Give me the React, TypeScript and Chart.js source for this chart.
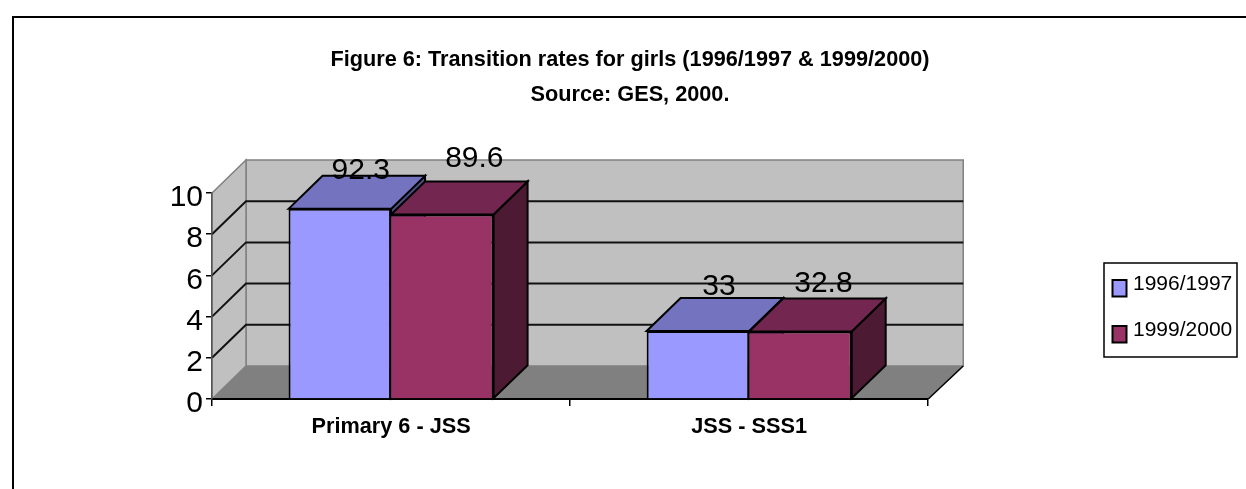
import React, { useEffect, useRef } from "react";
import { Chart, registerables } from "chart.js";

Chart.register(...registerables);

const categories = ["Primary 6 - JSS", "JSS - SSS1"];
const seriesNames = ["1996/1997", "1999/2000"];
const values1996 = [9.23, 3.3];
const values1999 = [8.96, 3.28];
const labels1996 = ["92.3", "33"];
const labels1999 = ["89.6", "32.8"];
const titleLines = ["Figure 6: Transition rates for girls (1996/1997 & 1999/2000)", "Source: GES, 2000."];
const yTicks = [0, 2, 4, 6, 8, 10];

const FONT = '"Liberation Sans", Arial, sans-serif';
const DX = 34;
const DY = 33;
const WALL_RIGHT_EXTRA = DX + 1;
const faces = [
  { front: "#9999FF", top: "#7373BF", side: "#4D4D80" },
  { front: "#993366", top: "#732650", side: "#4D1A33" },
];
// label placement relative to the bar's top-centre, per dataset then category
const labelNudge = [
  [{ x: 21, y: -30 }, { x: 21, y: -36 }],
  [{ x: 32, y: -47 }, { x: 23, y: -39 }],
];

function poly(ctx: CanvasRenderingContext2D, pts: number[][], fill: string | null, stroke: string | null, lw = 1.5) {
  ctx.beginPath();
  pts.forEach((p, i) => (i ? ctx.lineTo(p[0], p[1]) : ctx.moveTo(p[0], p[1])));
  ctx.closePath();
  if (fill) {
    ctx.fillStyle = fill;
    ctx.fill();
  }
  if (stroke) {
    ctx.strokeStyle = stroke;
    ctx.lineWidth = lw;
    ctx.lineJoin = "miter";
    ctx.stroke();
  }
}

const scenePlugin = {
  id: "scene3d",
  afterLayout(chart: any) {
    if (chart.titleBlock) {
      chart.titleBlock.left = 14;
      chart.titleBlock.right = 1246;
      chart.titleBlock.width = 1232;
    }
    const lg = chart.legend;
    if (lg) {
      lg.left = 1083.5;
      lg.right = 1246;
      lg.top = 248.5;
      lg.bottom = 372;
      lg.width = 162.5;
      lg.height = 123.5;
    }
  },
  beforeDraw(chart: any) {
    const { ctx, chartArea: a, scales } = chart;
    const y = scales.y;
    ctx.save();
    ctx.fillStyle = "#FFFFFF";
    ctx.fillRect(0, 0, chart.width, chart.height);

    // outer frame: top and left edges only
    ctx.fillStyle = "#000000";
    ctx.fillRect(12, 16, chart.width - 12, 2);
    ctx.fillRect(12, 16, 2, chart.height - 16);

    const y0 = y.getPixelForValue(0);
    const yMax = y.getPixelForValue(10);
    const farRight = a.right + WALL_RIGHT_EXTRA;
    // back wall
    poly(ctx, [[a.left + DX, yMax - DY], [farRight, yMax - DY], [farRight, y0 - DY], [a.left + DX, y0 - DY]], "#C0C0C0", "#808080", 1.5);
    // side wall
    poly(ctx, [[a.left, yMax], [a.left + DX, yMax - DY], [a.left + DX, y0 - DY], [a.left, y0]], "#C0C0C0", "#808080", 1.5);
    // floor
    poly(ctx, [[a.left, y0], [a.left + DX, y0 - DY], [farRight, y0 - DY], [a.right, y0]], "#808080", null);
    ctx.strokeStyle = "#000000";
    ctx.lineWidth = 1.5;
    ctx.beginPath();
    ctx.moveTo(a.right, y0);
    ctx.lineTo(farRight, y0 - DY);
    ctx.stroke();
    // grid lines across both walls
    yTicks.filter((v) => v > 0 && v < 10).forEach((v) => {
      const py = y.getPixelForValue(v);
      ctx.strokeStyle = "#111111";
      ctx.lineWidth = 2;
      ctx.beginPath();
      ctx.moveTo(a.left, py);
      ctx.lineTo(a.left + DX, py - DY);
      ctx.lineTo(farRight, py - DY);
      ctx.stroke();
    });
    ctx.restore();
  },
  beforeDatasetsDraw(chart: any) {
    const { ctx } = chart;
    ctx.save();
    chart.data.datasets.forEach((_: any, di: number) => {
      chart.getDatasetMeta(di).data.forEach((bar: any) => {
        const l = bar.x - bar.width / 2;
        const r = bar.x + bar.width / 2;
        const t = bar.y;
        const b = bar.base;
        poly(ctx, [[r, t], [r + DX, t - DY], [r + DX, b - DY], [r, b]], faces[di].side, "#000000", 2);
        poly(ctx, [[l, t], [l + DX, t - DY], [r + DX, t - DY], [r, t]], faces[di].top, "#000000", 2);
      });
    });
    ctx.restore();
  },
  afterDatasetsDraw(chart: any) {
    const { ctx } = chart;
    const sets = [labels1996, labels1999];
    ctx.save();
    ctx.font = `30px ${FONT}`;
    ctx.fillStyle = "#000000";
    ctx.textAlign = "center";
    ctx.textBaseline = "alphabetic";
    chart.data.datasets.forEach((_: any, di: number) => {
      chart.getDatasetMeta(di).data.forEach((bar: any, ci: number) => {
        const n = labelNudge[di][ci];
        ctx.fillText(sets[di][ci], bar.x + n.x, bar.y + n.y);
      });
    });
    ctx.restore();
  },
  afterDraw(chart: any) {
    const { ctx } = chart;
    ctx.save();
    ctx.strokeStyle = "#000000";
    ctx.lineWidth = 1.5;
    ctx.strokeRect(1104, 263, 133, 94);
    // legend swatches sit lower than the text rows in the reference
    faces.forEach((f, i) => {
      ctx.fillStyle = f.front;
      ctx.fillRect(1112.5, 280 + i * 46, 14, 16.5);
      ctx.lineWidth = 2;
      ctx.strokeRect(1112.5, 280 + i * 46, 14, 16.5);
    });
    ctx.restore();
  },
};

export default function App() {
  const ref = useRef<HTMLCanvasElement>(null);
  useEffect(() => {
    document.body.style.margin = "0";
    const chart = new Chart(ref.current as HTMLCanvasElement, {
      type: "bar",
      data: {
        labels: categories,
        datasets: [
          { label: seriesNames[0], data: values1996, backgroundColor: faces[0].front, borderColor: "#000000", borderWidth: 2 },
          {
            label: seriesNames[1],
            data: values1999,
            backgroundColor: faces[1].front,
            borderColor: "#000000",
            borderWidth: { top: 2, right: 2, bottom: 2, left: 0 },
          },
        ],
      },
      options: {
        animation: false,
        responsive: false,
        devicePixelRatio: 1,
        layout: { padding: { top: 42.5, left: 0, right: 159, bottom: 0 } },
        datasets: { bar: { categoryPercentage: 0.5726, barPercentage: 1 } },
        scales: {
          x: {
            afterFit: (s: any) => {
              s.height = 90;
            },
            border: { display: true, color: "#000000", width: 2 },
            grid: { drawOnChartArea: false, drawTicks: true, tickLength: 7, color: "#000000", lineWidth: 1.5 },
            ticks: { font: { family: FONT, size: 21.7, weight: "bold" }, color: "#000000", padding: 8, maxRotation: 0 },
          },
          y: {
            min: 0,
            max: 10,
            afterFit: (s: any) => {
              s.width = 212;
            },
            border: { display: true, color: "#555555", width: 1.5 },
            grid: { drawOnChartArea: false, drawTicks: true, tickLength: 6, color: "#000000", lineWidth: 1.5 },
            ticks: { stepSize: 2, font: { family: FONT, size: 30 }, color: "#000000", padding: 3, labelOffset: 5 },
          },
        },
        plugins: {
          tooltip: { enabled: false },
          title: {
            display: true,
            text: titleLines,
            color: "#000000",
            font: { family: FONT, size: 21.7, weight: "bold", lineHeight: 35 / 21.7 },
            padding: { top: 0, bottom: 80.5 },
          },
          legend: {
            display: true,
            position: "right",
            align: "start",
            labels: {
              boxWidth: 14,
              boxHeight: 17,
              padding: 25,
              color: "#000000",
              font: { family: FONT, size: 21 },
              generateLabels: (c: any) =>
                c.data.datasets.map((d: any, i: number) => ({
                  text: d.label,
                  datasetIndex: i,
                  fillStyle: "rgba(0,0,0,0)",
                  strokeStyle: "rgba(0,0,0,0)",
                  lineWidth: 0,
                  fontColor: "#000000",
                })),
            },
          },
        },
      } as any,
      plugins: [scenePlugin],
    });
    return () => chart.destroy();
  }, []);
  return <canvas ref={ref} width={1246} height={489} style={{ display: "block" }} />;
}
